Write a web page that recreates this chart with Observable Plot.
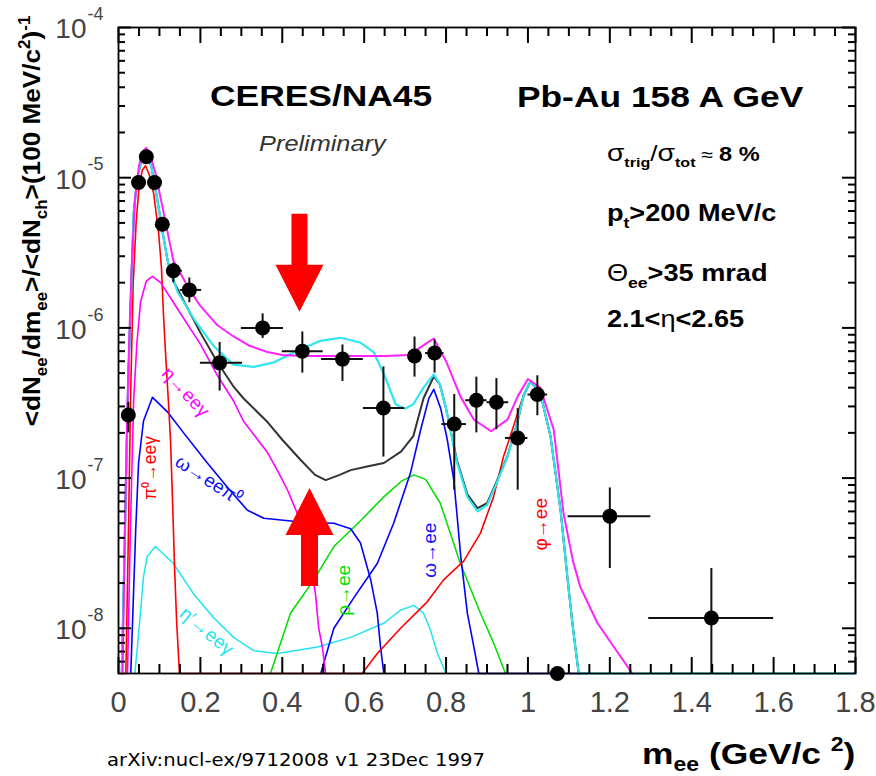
<!DOCTYPE html>
<html>
<head>
<meta charset="utf-8">
<script src="https://cdn.jsdelivr.net/npm/d3@7"></script>
<script src="https://cdn.jsdelivr.net/npm/@observablehq/plot@0.6"></script>
<style>
html,body{margin:0;padding:0;background:#fff;}
#chart{width:876px;height:776px;}
#chart svg{display:block;}
</style>
</head>
<body>
<div id="chart"></div>
<script>
const FONT = "'Liberation Sans', Arial, Helvetica, sans-serif";

// ---------- axes ----------
const xDomain = [0, 1.8];
const yDomain = [5e-9, 1e-4];
const xTickValues = [0, 0.2, 0.4, 0.6, 0.8, 1, 1.2, 1.4, 1.6, 1.8];
const xTickLabels = ["0", "0.2", "0.4", "0.6", "0.8", "1", "1.2", "1.4", "1.6", "1.8"];
const yTickValues = [1e-8, 1e-7, 1e-6, 1e-5, 1e-4];
const yTickExponents = ["-8", "-7", "-6", "-5", "-4"];

// ---------- measured data points ----------
const ptMass  = [0.024, 0.049, 0.068, 0.088, 0.107, 0.134, 0.173, 0.247, 0.352, 0.449, 0.547, 0.647, 0.723, 0.772, 0.82, 0.874, 0.923, 0.975, 1.023, 1.2, 1.448, 1.072];
const ptValue = [2.63e-7, 9.3e-6, 1.38e-5, 9.3e-6, 4.9e-6, 2.4e-6, 1.79e-6, 5.85e-7, 1.0e-6, 7.0e-7, 6.2e-7, 2.93e-7, 6.5e-7, 6.8e-7, 2.29e-7, 3.3e-7, 3.2e-7, 1.85e-7, 3.6e-7, 5.58e-8, 1.17e-8, 5e-9];
const ptMassLo = [0.024, 0.049, 0.068, 0.088, 0.107, 0.12, 0.151, 0.2, 0.3, 0.4, 0.496, 0.598, 0.708, 0.75, 0.79, 0.848, 0.9, 0.945, 1.0, 1.098, 1.295, 1.072];
const ptMassHi = [0.024, 0.049, 0.068, 0.088, 0.107, 0.156, 0.203, 0.303, 0.403, 0.5, 0.598, 0.699, 0.74, 0.795, 0.85, 0.9, 0.953, 1.0, 1.048, 1.3, 1.6, 1.072];
const ptValueLo = [2.0e-7, 9.3e-6, 1.38e-5, 9.3e-6, 4.9e-6, 2.0e-6, 1.47e-6, 3.8e-7, 8.5e-7, 5.0e-7, 4.4e-7, 1.38e-7, 4.7e-7, 5.0e-7, 8.3e-8, 2.0e-7, 2.1e-7, 8.3e-8, 2.6e-7, 2.5e-8, 5e-9, 5e-9];
const ptValueHi = [3.2e-7, 9.3e-6, 1.38e-5, 9.3e-6, 4.9e-6, 2.7e-6, 2.15e-6, 8.0e-7, 1.24e-6, 9.4e-7, 7.7e-7, 5.5e-7, 8.7e-7, 8.3e-7, 3.6e-7, 4.7e-7, 4.6e-7, 2.9e-7, 4.8e-7, 8.6e-8, 2.5e-8, 5e-9];

// ---------- model curves ----------
const pi0Mass  = [0, 0.018, 0.024, 0.03, 0.036, 0.043, 0.05, 0.058, 0.066, 0.075, 0.086, 0.098, 0.105, 0.11, 0.116, 0.122, 0.127, 0.132, 0.137, 0.142, 0.149, 0.595];
const pi0Value = [5e-9, 5e-9, 4e-8, 4e-7, 2e-6, 5e-6, 8.5e-6, 1.12e-5, 1.2e-5, 1.05e-5, 7.8e-6, 4.3e-6, 2.5e-6, 1.2e-6, 6e-7, 3.2e-7, 1.8e-7, 7e-8, 2.5e-8, 1.1e-8, 5e-9, 5e-9];

const etaMass  = [0.022, 0.029, 0.037, 0.045, 0.054, 0.068, 0.083, 0.103, 0.144, 0.2, 0.242, 0.28, 0.305, 0.364, 0.39, 0.413, 0.437, 0.462, 0.481, 0.489, 0.498, 0.506];
const etaValue = [5e-9, 4.5e-8, 3.3e-7, 8e-7, 1.5e-6, 2.05e-6, 2.2e-6, 2.0e-6, 1.34e-6, 7.8e-7, 4.8e-7, 3.3e-7, 2.4e-7, 1.48e-7, 1.1e-7, 8.3e-8, 5.8e-8, 3.4e-8, 1.7e-8, 1.0e-8, 7.5e-9, 5e-9];

const omegaDalMass  = [0.03, 0.036, 0.042, 0.049, 0.061, 0.083, 0.12, 0.159, 0.217, 0.266, 0.315, 0.355, 0.445, 0.526, 0.567, 0.591, 0.616, 0.632, 0.64, 0.648];
const omegaDalValue = [5e-9, 1.5e-8, 4.5e-8, 1.26e-7, 2.4e-7, 3.45e-7, 2.75e-7, 2.0e-7, 1.26e-7, 8.7e-8, 6.1e-8, 5.4e-8, 5.1e-8, 5.0e-8, 4.6e-8, 3.7e-8, 2.1e-8, 1.26e-8, 7.5e-9, 5e-9];

const etaPrimeMass  = [0.04, 0.047, 0.054, 0.061, 0.07, 0.09, 0.134, 0.183, 0.232, 0.281, 0.33, 0.388, 0.486, 0.567, 0.648, 0.689, 0.721, 0.745, 0.762, 0.779, 0.8];
const etaPrimeValue = [5e-9, 8e-9, 1.3e-8, 2.2e-8, 3e-8, 3.5e-8, 2.7e-8, 1.7e-8, 1.18e-8, 8.7e-9, 7.1e-9, 6.8e-9, 7.5e-9, 8.7e-9, 1.08e-8, 1.32e-8, 1.42e-8, 1.26e-8, 9.7e-9, 6.8e-9, 5e-9];

const rhoMass  = [0.371, 0.42, 0.477, 0.526, 0.591, 0.648, 0.69, 0.721, 0.75, 0.786, 0.835, 0.884, 0.916, 0.945];
const rhoValue = [5e-9, 1.26e-8, 2.1e-8, 3.5e-8, 5.2e-8, 7.5e-8, 9.5e-8, 1.05e-7, 9.8e-8, 6.8e-8, 2.7e-8, 1.26e-8, 8e-9, 5e-9];

const omegaMass  = [0.494, 0.526, 0.575, 0.632, 0.672, 0.713, 0.738, 0.758, 0.77, 0.787, 0.803, 0.819, 0.836, 0.852, 0.868, 0.88, 1.146];
const omegaValue = [5e-9, 1e-8, 1.6e-8, 2.7e-8, 5e-8, 1.08e-7, 2.1e-7, 3.4e-7, 3.9e-7, 2.9e-7, 1.8e-7, 9.7e-8, 3.0e-8, 1.26e-8, 7.5e-9, 5e-9, 5e-9];

const phiMass  = [0.595, 0.632, 0.689, 0.754, 0.794, 0.843, 0.884, 0.916, 0.94, 0.962, 0.985, 1.006, 1.03, 1.055, 1.067, 1.08, 1.097, 1.11, 1.124];
const phiValue = [5e-9, 6.8e-9, 1.0e-8, 1.5e-8, 2.1e-8, 2.8e-8, 4.3e-8, 7.5e-8, 1.38e-7, 2.1e-7, 3.3e-7, 4.4e-7, 3.7e-7, 1.9e-7, 1.1e-7, 6e-8, 2.1e-8, 1e-8, 5e-9];

const cocktailMass  = [0.008, 0.015, 0.02, 0.024, 0.03, 0.037, 0.046, 0.056, 0.068, 0.08, 0.095, 0.108, 0.12, 0.134, 0.16, 0.2, 0.24, 0.28, 0.305, 0.364, 0.4, 0.445, 0.48, 0.506, 0.54, 0.567, 0.61, 0.648, 0.69, 0.72, 0.745, 0.77, 0.785, 0.8, 0.827, 0.852, 0.877, 0.9, 0.916, 0.95, 0.975, 0.99, 1.006, 1.03, 1.055, 1.067, 1.08, 1.097, 1.11, 1.124];
const cocktailValue = [5e-9, 3.5e-8, 1.6e-7, 4.6e-7, 1.5e-6, 5.8e-6, 1.0e-5, 1.3e-5, 1.4e-5, 1.2e-5, 7.1e-6, 4.3e-6, 2.8e-6, 2.05e-6, 1.5e-6, 9.3e-7, 6.0e-7, 4.1e-7, 3.4e-7, 2.36e-7, 1.8e-7, 1.32e-7, 1.05e-7, 9.7e-8, 1.05e-7, 1.13e-7, 1.2e-7, 1.26e-7, 1.5e-7, 1.9e-7, 3.4e-7, 4.75e-7, 4.2e-7, 2.9e-7, 1.3e-7, 7.8e-8, 6.3e-8, 6.8e-8, 8.5e-8, 1.4e-7, 2.4e-7, 3.6e-7, 4.4e-7, 3.7e-7, 1.9e-7, 1.1e-7, 6e-8, 2.1e-8, 1e-8, 5e-9];

const cyanTotMass  = [0.008, 0.015, 0.02, 0.024, 0.03, 0.037, 0.046, 0.056, 0.068, 0.08, 0.095, 0.108, 0.12, 0.134, 0.144, 0.184, 0.232, 0.28, 0.33, 0.38, 0.43, 0.493, 0.543, 0.59, 0.623, 0.65, 0.677, 0.7, 0.72, 0.745, 0.77, 0.785, 0.8, 0.827, 0.852, 0.877, 0.9, 0.916, 0.95, 0.975, 0.99, 1.006, 1.03, 1.055, 1.067, 1.08, 1.097, 1.11, 1.124, 1.146, 1.8];
const cyanTotValue = [5e-9, 3.5e-8, 1.6e-7, 4.6e-7, 1.5e-6, 5.8e-6, 1.0e-5, 1.3e-5, 1.4e-5, 1.2e-5, 7.1e-6, 4.3e-6, 2.8e-6, 2.1e-6, 1.74e-6, 1.15e-6, 7.6e-7, 5.7e-7, 5.5e-7, 5.9e-7, 6.9e-7, 8.2e-7, 8.6e-7, 8.0e-7, 6.9e-7, 4.8e-7, 3.1e-7, 2.9e-7, 3.1e-7, 4.0e-7, 4.9e-7, 4.2e-7, 2.9e-7, 1.26e-7, 7.5e-8, 6.0e-8, 6.6e-8, 8.3e-8, 1.38e-7, 2.4e-7, 3.6e-7, 4.4e-7, 3.7e-7, 1.9e-7, 1.1e-7, 6e-8, 2.1e-8, 1e-8, 5e-9, 5e-9, 5e-9];

const magTotMass  = [0.01, 0.016, 0.021, 0.026, 0.032, 0.04, 0.05, 0.06, 0.068, 0.078, 0.09, 0.11, 0.134, 0.176, 0.2, 0.24, 0.28, 0.32, 0.364, 0.4, 0.45, 0.55, 0.65, 0.71, 0.74, 0.77, 0.8, 0.835, 0.868, 0.91, 0.95, 0.975, 1.0, 1.03, 1.063, 1.087, 1.11, 1.128, 1.17, 1.21, 1.255];
const magTotValue = [5e-9, 5e-8, 2.5e-7, 8e-7, 2.5e-6, 7e-6, 1.2e-5, 1.5e-5, 1.58e-5, 1.4e-5, 1.08e-5, 5.9e-6, 2.8e-6, 1.75e-6, 1.4e-6, 1.05e-6, 8.8e-7, 7.6e-7, 6.9e-7, 6.6e-7, 6.5e-7, 6.5e-7, 6.5e-7, 6.6e-7, 7.5e-7, 8.5e-7, 6.0e-7, 3.5e-7, 2.45e-7, 2.05e-7, 2.45e-7, 3.5e-7, 4.57e-7, 4.0e-7, 2.1e-7, 5.8e-8, 2.8e-8, 1.88e-8, 1.08e-8, 7.5e-9, 5e-9];

// ---------- in-plot curve labels ----------
const labelText  = ["π⁰→eeγ", "η→eeγ", "ω→eeπ⁰", "η′→eeγ", "ρ→ee", "ω→ee", "φ→ee"];
const labelMass  = [0.078, 0.164, 0.22, 0.215, 0.55, 0.76, 1.031];
const labelValue = [1.17e-7, 3.74e-7, 9.7e-8, 9.55e-9, 1.79e-8, 3.31e-8, 4.93e-8];

// ---------- arrows ----------
const arrowMass = [0.442, 0.4665];
const arrowTipValue = [1.28e-6, 8.58e-8];

// ---------- annotation anchors ----------
const noteMass  = [0.496, 1.324, 0.499, 1.194, 1.194, 1.194, 1.194];
const noteValue = [2.97e-5, 2.93e-5, 1.49e-5, 1.28e-5, 5.09e-6, 2.03e-6, 1.0e-6];

// ---------- layout ----------
const W = 876, H = 776, ML = 118, MR = 21, MT = 27, MB = 103;
const innerW = W - ML - MR, innerH = H - MT - MB;

// ---------- build ----------
const zip = (ms, vs) => ms.map((m, i) => ({m, v: vs[i]}));
const points = ptMass.map((m, i) => ({m, v: ptValue[i], m1: ptMassLo[i], m2: ptMassHi[i], v1: ptValueLo[i], v2: ptValueHi[i]}));

const curves = [
  {d: zip(etaPrimeMass, etaPrimeValue), stroke: "#22e4f0", w: 1.5},
  {d: zip(rhoMass, rhoValue), stroke: "#00dd00", w: 1.5},
  {d: zip(omegaDalMass, omegaDalValue), stroke: "#0000ff", w: 1.6},
  {d: zip(omegaMass, omegaValue), stroke: "#0000ff", w: 1.6},
  {d: zip(pi0Mass, pi0Value), stroke: "#ff0000", w: 1.6},
  {d: zip(etaMass, etaValue), stroke: "#ff00ff", w: 1.6},
  {d: zip(phiMass, phiValue), stroke: "#ff0000", w: 1.6},
  {d: zip(cocktailMass, cocktailValue), stroke: "#333333", w: 2},
  {d: zip(cyanTotMass, cyanTotValue), stroke: "#2ee6f0", w: 2.2},
  {d: zip(magTotMass, magTotValue), stroke: "#ff22ff", w: 2}
];

const labelStyle = [
  {fill: "#ff0000", rotate: -90, size: 17.5},
  {fill: "#ff00ff", rotate: 47, size: 19},
  {fill: "#1010ff", rotate: 33, size: 19},
  {fill: "#22e4f0", rotate: 40, size: 19},
  {fill: "#00dd00", rotate: -90, size: 19},
  {fill: "#1010ff", rotate: -90, size: 19},
  {fill: "#ff0000", rotate: -90, size: 19}
];
const labels = labelText.map((t, i) => ({t, m: labelMass[i], v: labelValue[i], ...labelStyle[i]}));

const arrowDown = {draw(c) { c.moveTo(0, 0); c.lineTo(-24, -47); c.lineTo(-8, -47); c.lineTo(-8, -98); c.lineTo(8, -98); c.lineTo(8, -47); c.lineTo(24, -47); c.closePath(); }};
const arrowUp = {draw(c) { c.moveTo(0, 0); c.lineTo(-24, 47); c.lineTo(-8.5, 47); c.lineTo(-8.5, 98); c.lineTo(8.5, 98); c.lineTo(8.5, 47); c.lineTo(24, 47); c.closePath(); }};

const xMinor = d3.range(0, 1.8001, 0.05).filter(v => Math.abs(v / 0.2 - Math.round(v / 0.2)) > 1e-6);
const yMinor = [];
for (let e = -9; e <= -5; e++) for (let j = 2; j <= 9; j++) { const v = j * Math.pow(10, e); if (v > 5.01e-9 && v < 0.99e-4) yMinor.push(v); }

// inward tick lengths converted from pixels into the scales' units
const xPerPx = (xDomain[1] - xDomain[0]) / innerW;
const yFactor = px => Math.pow(yDomain[1] / yDomain[0], px / innerH);
const tickStyle = {stroke: "#000", strokeWidth: 2};
function xTicks(vals, len) {
  return [
    Plot.ruleX(vals, {x: d => d, y1: () => yDomain[0], y2: () => yDomain[0] * yFactor(len), ...tickStyle}),
    Plot.ruleX(vals, {x: d => d, y1: () => yDomain[1], y2: () => yDomain[1] / yFactor(len), ...tickStyle})
  ];
}
function yTicks(vals, len) {
  return [
    Plot.ruleY(vals, {y: d => d, x1: () => xDomain[0], x2: () => xDomain[0] + len * xPerPx, ...tickStyle}),
    Plot.ruleY(vals, {y: d => d, x1: () => xDomain[1], x2: () => xDomain[1] - len * xPerPx, ...tickStyle})
  ];
}

const marks = [];
for (const c of curves) marks.push(Plot.line(c.d, {x: "m", y: "v", stroke: c.stroke, strokeWidth: c.w}));
marks.push(
  Plot.ruleY(points, {y: "v", x1: "m1", x2: "m2", stroke: "#111", strokeWidth: 2}),
  Plot.ruleX(points, {x: "m", y1: "v1", y2: "v2", stroke: "#111", strokeWidth: 2}),
  Plot.dot(points, {x: "m", y: "v", r: 7.5, fill: "#000", stroke: null}),
  Plot.dot([0], {x: () => arrowMass[0], y: () => arrowTipValue[0], symbol: arrowDown, fill: "#ff0000", stroke: null, r: 10}),
  Plot.dot([0], {x: () => arrowMass[1], y: () => arrowTipValue[1], symbol: arrowUp, fill: "#ff0000", stroke: null, r: 10})
);
for (const l of labels) marks.push(Plot.text([l], {x: "m", y: "v", text: "t", rotate: l.rotate, fill: l.fill, fontSize: l.size, fontFamily: FONT, textAnchor: "middle", lineAnchor: "middle"}));
marks.push(
  ...xTicks(xTickValues, 16), ...xTicks(xMinor, 9),
  ...yTicks(yTickValues, 13), ...yTicks(yMinor, 7),
  Plot.frame({stroke: "#000", strokeWidth: 1.8}),
  Plot.text(xTickValues, {x: d => d, y: () => yDomain[0], text: (d, i) => xTickLabels[i], dy: 29, fontSize: 29, fill: "#444", fontFamily: FONT, textAnchor: "middle", lineAnchor: "middle"}),
  Plot.text(yTickValues, {x: () => xDomain[0], y: d => d, text: () => "10", dx: -32, dy: 2, fontSize: 28, fill: "#444", fontFamily: FONT, textAnchor: "end", lineAnchor: "middle"}),
  Plot.text(yTickValues, {x: () => xDomain[0], y: d => d, text: (d, i) => yTickExponents[i], dx: -31, dy: -13, fontSize: 18, fill: "#444", fontFamily: FONT, textAnchor: "start", lineAnchor: "middle"})
);

const svg = Plot.plot({
  width: W, height: H,
  marginLeft: ML, marginRight: MR, marginTop: MT, marginBottom: MB,
  x: {domain: xDomain, label: null, axis: null},
  y: {type: "log", domain: yDomain, label: null, axis: null},
  style: {fontFamily: FONT, background: "#fff", overflow: "visible"},
  marks
});
document.getElementById("chart").appendChild(svg);

const sx = svg.scale("x"), sy = svg.scale("y");
const root = d3.select(svg);

// ---------- rich text annotations ----------
function rich(parts, {x, y, size, weight = "normal", style = "normal", fill = "#000", anchor = "start", rotate = 0, stretch = 1, family = FONT, textLength = null, subShift = 0.3}) {
  const t = root.append("text")
    .attr("transform", `translate(${x},${y}) rotate(${rotate}) scale(${stretch},1)`)
    .attr("font-size", size).attr("font-weight", weight).attr("font-style", style)
    .attr("fill", fill).attr("text-anchor", anchor).attr("font-family", family);
  if (textLength) t.attr("textLength", textLength).attr("lengthAdjust", "spacingAndGlyphs");
  let shift = 0;
  for (const p of parts) {
    const s = typeof p === "string" ? {t: p} : p;
    const target = s.sub ? size * subShift : s.sup ? -size * 0.42 : 0;
    const ts = t.append("tspan").text(s.t);
    if (target - shift !== 0) ts.attr("dy", target - shift);
    if (s.sub || s.sup) ts.attr("font-size", (s.size || size) * 0.65);
    else if (s.size) ts.attr("font-size", s.size);
    if (s.w) ts.attr("font-weight", s.w);
    shift = target;
  }
  return t;
}
const px = i => sx.apply(noteMass[i]), py = i => sy.apply(noteValue[i]);
rich(["CERES/NA45"], {x: px(0), y: py(0), size: 30, weight: "bold", anchor: "middle", stretch: 1.18});
rich(["Pb-Au 158 A GeV"], {x: px(1), y: py(1), size: 30, weight: "bold", anchor: "middle", stretch: 1.18});
rich(["Preliminary"], {x: px(2), y: py(2), size: 22, style: "italic", fill: "#333", anchor: "middle", stretch: 1.15});
rich([{t: "σ", size: 24}, {t: "trig", sub: true, size: 21, w: "bold"}, {t: "/", size: 22}, {t: "σ", size: 24}, {t: "tot", sub: true, size: 21, w: "bold"}, {t: " ≈ ", size: 18}, {t: "8 %", size: 20, w: "bold"}],
  {x: px(3), y: py(3), size: 21, stretch: 1.18});
rich(["p", {t: "t", sub: true}, ">200 MeV/c"], {x: px(4), y: py(4), size: 23, weight: "bold", stretch: 1.18});
rich([{t: "Θ", w: "normal"}, {t: "ee", sub: true}, ">35 mrad"], {x: px(5), y: py(5), size: 23, weight: "bold", stretch: 1.18});
rich(["2.1<", {t: "η", w: "normal"}, "<2.65"], {x: px(6), y: py(6), size: 23, weight: "bold", stretch: 1.18});

// axis titles and caption (in the margins)
rich(["<dN", {t: "ee", sub: true}, "/dm", {t: "ee", sub: true}, ">/<dN", {t: "ch", sub: true}, ">(100 MeV/c", {t: "2", sup: true}, ")", {t: "-1", sup: true}],
  {x: 40, y: 221, size: 24, weight: "bold", anchor: "middle", rotate: -90, stretch: 1.09});
rich(["m", {t: "ee", sub: true}, " (GeV/c ", {t: "2", sup: true}, ")"], {x: 642, y: 764, size: 30, weight: "bold", stretch: 1.18, subShift: 0.22});
rich(["arXiv:nucl-ex/9712008 v1 23Dec 1997"], {x: 107, y: 766, size: 18, family: "'DejaVu Sans', sans-serif", textLength: 378});
</script>
</body>
</html>
